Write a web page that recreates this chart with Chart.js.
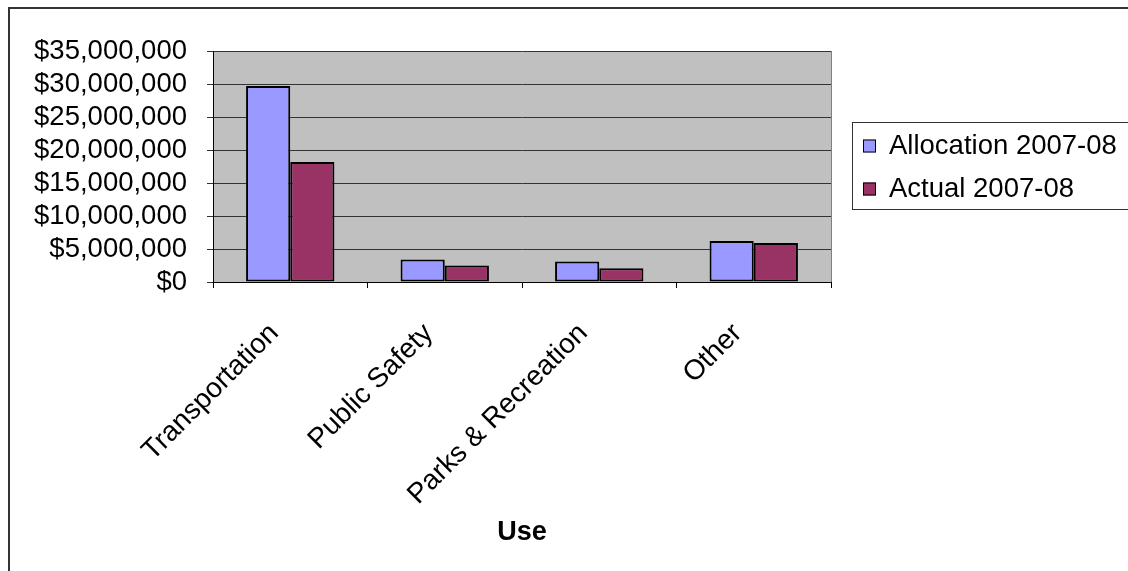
<!DOCTYPE html>
<html>
<head>
<meta charset="utf-8">
<script src="https://cdn.jsdelivr.net/npm/chart.js@4.4.1/dist/chart.umd.min.js"></script>
<style>
  html, body { margin: 0; padding: 0; background: #ffffff; }
  #wrap { width: 1128px; height: 571px; position: relative; }
</style>
</head>
<body>
<div id="wrap"><canvas id="chart" width="1128" height="571"></canvas></div>
<script>
// Spending by use, fiscal year 2007-08
const categories = ['Transportation', 'Public Safety', 'Parks & Recreation', 'Other'];
const allocation = [29700000, 3400000, 3100000, 6200000];
const actual = [18200000, 2500000, 2100000, 5900000];
const seriesNames = ['Allocation 2007-08', 'Actual 2007-08'];
const seriesColors = ['#9999FF', '#993366'];
const yTickValues = [0, 5000000, 10000000, 15000000, 20000000, 25000000, 30000000, 35000000];
const axisTitle = 'Use';

const FONT = "'Liberation Sans', Arial, sans-serif";

const fmtMoney = v => '$' + Number(v).toLocaleString('en-US');

// Page frame, grey plot background and right edge of the plot
const frame = {
  id: 'frame',
  beforeDraw(chart) {
    const { ctx, chartArea: a } = chart;
    ctx.save();
    ctx.fillStyle = '#ffffff';
    ctx.fillRect(0, 0, chart.width, chart.height);
    ctx.strokeStyle = '#333333';
    ctx.lineWidth = 2;
    ctx.strokeRect(9, 8, chart.width + 20, chart.height + 20);
    ctx.fillStyle = '#C0C0C0';
    ctx.fillRect(a.left, a.top, a.right - a.left, a.bottom - a.top);
    ctx.restore();
  },
  beforeDatasetsDraw(chart) {
    const { ctx, chartArea: a } = chart;
    ctx.save();
    ctx.strokeStyle = '#808080';
    ctx.lineWidth = 1;
    ctx.beginPath();
    ctx.moveTo(Math.round(a.right) + 0.5, a.top);
    ctx.lineTo(Math.round(a.right) + 0.5, a.bottom);
    ctx.stroke();
    ctx.restore();
  }
};

// Boxed legend to the right of the plot
const boxLegend = {
  id: 'boxLegend',
  afterDraw(chart) {
    const { ctx } = chart;
    const x = 852.5, y = 122.5, w = 290, h = 87;
    ctx.save();
    ctx.fillStyle = '#ffffff';
    ctx.fillRect(x, y, w, h);
    ctx.strokeStyle = '#333333';
    ctx.lineWidth = 1;
    ctx.strokeRect(x, y, w, h);
    ctx.font = '27.5px ' + FONT;
    ctx.textBaseline = 'middle';
    ctx.textAlign = 'left';
    const rows = [146, 189];
    chart.data.datasets.forEach((ds, i) => {
      const cy = rows[i];
      ctx.fillStyle = ds.backgroundColor;
      ctx.fillRect(863, cy - 6.5, 13, 13);
      ctx.strokeStyle = '#000000';
      ctx.lineWidth = 1;
      ctx.strokeRect(863.5, cy - 6, 12, 12);
      ctx.fillStyle = '#000000';
      ctx.fillText(ds.label, 889, cy);
    });
    ctx.restore();
  }
};

new Chart(document.getElementById('chart'), {
  type: 'bar',
  data: {
    labels: categories,
    datasets: [
      {
        label: seriesNames[0],
        data: allocation,
        backgroundColor: seriesColors[0],
        borderColor: '#000000',
        borderWidth: 2,
        borderSkipped: false
      },
      {
        label: seriesNames[1],
        data: actual,
        backgroundColor: seriesColors[1],
        borderColor: '#000000',
        borderWidth: 2,
        borderSkipped: false
      }
    ]
  },
  options: {
    responsive: false,
    animation: false,
    devicePixelRatio: 1,
    layout: { padding: { left: 0, right: 297, top: 51, bottom: 0 } },
    datasets: { bar: { categoryPercentage: 0.572, barPercentage: 1.0 } },
    plugins: {
      legend: { display: false },
      tooltip: { enabled: false }
    },
    scales: {
      x: {
        offset: true,
        grid: {
          display: true,
          offset: true,
          drawOnChartArea: false,
          color: '#000000',
          tickLength: 6
        },
        border: { display: true, color: '#000000', width: 1 },
        ticks: {
          color: '#000000',
          font: { family: FONT, size: 28 },
          minRotation: 45,
          maxRotation: 45,
          autoSkip: false,
          labelOffset: -16,
          padding: 29
        },
        title: {
          display: true,
          text: axisTitle,
          color: '#000000',
          font: { family: FONT, size: 27, weight: 'bold' },
          padding: { top: 0, bottom: 22 }
        },
        afterFit(scale) { scale.height = 289; }
      },
      y: {
        min: 0,
        max: 35000000,
        afterBuildTicks(scale) { scale.ticks = yTickValues.map(v => ({ value: v })); },
        grid: {
          color: '#333333',
          lineWidth: 1,
          tickLength: 6,
          drawTicks: true
        },
        border: { display: true, color: '#000000', width: 1 },
        ticks: {
          color: '#000000',
          font: { family: FONT, size: 27.5, lineHeight: 1.0 },
          padding: 20,
          autoSkip: false,
          callback: v => fmtMoney(v)
        },
        afterFit(scale) { scale.width = 213; }
      }
    }
  },
  plugins: [frame, boxLegend]
});
</script>
</body>
</html>
